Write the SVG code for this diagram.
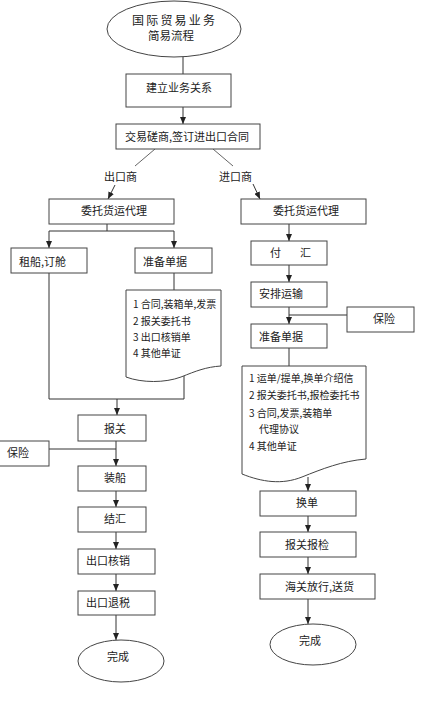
<svg xmlns="http://www.w3.org/2000/svg" width="440" height="708" viewBox="0 0 440 708">
<defs>
<style>
.n{fill:#fff;stroke:#444;stroke-width:1}
.t{font-family:"Noto Sans CJK SC","Noto Sans",sans-serif;font-size:11px;fill:#222}
.d{font-family:"Noto Sans CJK SC","Noto Sans",sans-serif;font-size:10px;fill:#222}
.c{fill:none;stroke:#333;stroke-width:1}
.g{fill:none;stroke:#666;stroke-width:1}
</style>
<marker id="ah" viewBox="0 0 10 10" refX="10" refY="5" markerWidth="7" markerHeight="6" markerUnits="userSpaceOnUse" orient="auto" preserveAspectRatio="none">
<path d="M0,0 L10,5 L0,10 z" fill="#222"/>
</marker>
</defs>
<rect width="440" height="708" fill="#fff"/>

<g id="connectors">
<line class="c" x1="183" y1="57" x2="183" y2="74"/>
<line class="c" x1="183" y1="107" x2="183" y2="124" marker-end="url(#ah)"/>
<line class="g" x1="155" y1="149" x2="135" y2="166"/>
<line class="c" x1="115" y1="185" x2="108" y2="199" marker-end="url(#ah)"/>
<line class="g" x1="213" y1="149" x2="233" y2="166"/>
<line class="c" x1="253" y1="184" x2="260" y2="199" marker-end="url(#ah)"/>
<line class="c" x1="107" y1="224" x2="107" y2="231"/>
<line class="c" x1="49" y1="231" x2="174" y2="231"/>
<line class="c" x1="49" y1="231" x2="49" y2="248" marker-end="url(#ah)"/>
<line class="c" x1="174" y1="231" x2="174" y2="248" marker-end="url(#ah)"/>
<line class="c" x1="174" y1="273" x2="174" y2="290"/>
<polyline class="c" points="49,273 49,399 184,399 184,376"/>
<line class="c" x1="117" y1="399" x2="117" y2="415" marker-end="url(#ah)"/>
<line class="c" x1="116" y1="441" x2="116" y2="466" marker-end="url(#ah)"/>
<line class="c" x1="49" y1="449" x2="116" y2="449"/>
<line class="c" x1="116" y1="491" x2="116" y2="507" marker-end="url(#ah)"/>
<line class="c" x1="116" y1="532" x2="116" y2="549" marker-end="url(#ah)"/>
<line class="c" x1="116" y1="574" x2="116" y2="591" marker-end="url(#ah)"/>
<line class="c" x1="116" y1="615" x2="116" y2="640" marker-end="url(#ah)"/>
<line class="c" x1="289" y1="224" x2="289" y2="241" marker-end="url(#ah)"/>
<line class="c" x1="289" y1="265" x2="289" y2="282" marker-end="url(#ah)"/>
<line class="c" x1="289" y1="307" x2="289" y2="324" marker-end="url(#ah)"/>
<line class="c" x1="347" y1="315" x2="289" y2="315"/>
<line class="c" x1="289" y1="348" x2="289" y2="366"/>
<line class="c" x1="308" y1="477" x2="308" y2="491" marker-end="url(#ah)"/>
<line class="c" x1="308" y1="516" x2="308" y2="532" marker-end="url(#ah)"/>
<line class="c" x1="308" y1="557" x2="308" y2="574" marker-end="url(#ah)"/>
<line class="c" x1="308" y1="599" x2="308" y2="624" marker-end="url(#ah)"/>
</g>

<g id="start">
<ellipse class="n" cx="174" cy="29" rx="67" ry="28"/>
<text class="t" x="132" y="24.5" style="font-size:12px;letter-spacing:2.2px">国际贸易业务</text>
<text class="t" x="148" y="39.5" style="font-size:11.5px">简易流程</text>
</g>
<g id="n-relation">
<rect class="n" x="126" y="74" width="105" height="33"/>
<text class="t" x="146" y="92">建立业务关系</text>
</g>
<g id="n-contract">
<rect class="n" x="116" y="124" width="144" height="25"/>
<text class="t" x="125" y="141">交易磋商,签订进出口合同</text>
</g>
<g id="lbl-exporter"><text class="t" x="104" y="181">出口商</text></g>
<g id="lbl-importer"><text class="t" x="219" y="181">进口商</text></g>

<g id="n-ex-agent">
<rect class="n" x="49" y="199" width="125" height="25"/>
<text class="t" x="81" y="215">委托货运代理</text>
</g>
<g id="n-ex-ship">
<rect class="n" x="11" y="248" width="76" height="25"/>
<text class="t" x="19" y="266">租船,订舱</text>
</g>
<g id="n-ex-docs">
<rect class="n" x="135" y="248" width="77" height="25"/>
<text class="t" x="143" y="266">准备单据</text>
</g>
<g id="n-ex-doclist">
<path class="n" d="M126,290 H221 V366 C206,367 196,371 181,377 C165,383 142,383 126,377 Z"/>
<text class="d" x="133" y="307.5">1 合同,装箱单,发票</text>
<text class="d" x="133" y="324.5">2 报关委托书</text>
<text class="d" x="133" y="340.5">3 出口核销单</text>
<text class="d" x="133" y="357">4 其他单证</text>
</g>
<g id="n-ex-customs">
<rect class="n" x="78" y="415" width="68" height="26"/>
<text class="t" x="104" y="433">报关</text>
</g>
<g id="n-ex-insurance">
<rect class="n" x="-1" y="441" width="50" height="25"/>
<text class="t" x="7" y="457">保险</text>
</g>
<g id="n-ex-load">
<rect class="n" x="78" y="466" width="68" height="25"/>
<text class="t" x="104" y="482">装船</text>
</g>
<g id="n-ex-settle">
<rect class="n" x="78" y="507" width="68" height="25"/>
<text class="t" x="104" y="523">结汇</text>
</g>
<g id="n-ex-verify">
<rect class="n" x="78" y="549" width="77" height="25"/>
<text class="t" x="86" y="565">出口核销</text>
</g>
<g id="n-ex-rebate">
<rect class="n" x="78" y="591" width="77" height="24"/>
<text class="t" x="86" y="607">出口退税</text>
</g>
<g id="n-ex-done">
<ellipse class="n" cx="121" cy="661" rx="43" ry="21"/>
<text class="t" x="107" y="661">完成</text>
</g>

<g id="n-im-agent">
<rect class="n" x="241" y="199" width="125" height="25"/>
<text class="t" x="273" y="215">委托货运代理</text>
</g>
<g id="n-im-pay">
<rect class="n" x="251" y="241" width="76" height="24"/>
<text class="t" x="270" y="257">付<tspan x="300">汇</tspan></text>
</g>
<g id="n-im-transport">
<rect class="n" x="251" y="282" width="76" height="25"/>
<text class="t" x="259" y="298">安排运输</text>
</g>
<g id="n-im-insurance">
<rect class="n" x="347" y="307" width="67" height="25"/>
<text class="t" x="373" y="323">保险</text>
</g>
<g id="n-im-docs">
<rect class="n" x="251" y="324" width="76" height="24"/>
<text class="t" x="259" y="341">准备单据</text>
</g>
<g id="n-im-doclist">
<path class="n" d="M242,366 H366 V459 C342,461 322,469 302,477 C282,485 262,482 242,474 Z"/>
<text class="d" x="249" y="382">1 运单/提单,换单介绍信</text>
<text class="d" x="249" y="399">2 报关委托书,报检委托书</text>
<text class="d" x="249" y="417">3 合同,发票,装箱单</text>
<text class="d" x="259" y="433">代理协议</text>
<text class="d" x="249" y="450">4 其他单证</text>
</g>
<g id="n-im-exchange">
<rect class="n" x="260" y="491" width="96" height="25"/>
<text class="t" x="296" y="507">换单</text>
</g>
<g id="n-im-customs">
<rect class="n" x="260" y="532" width="96" height="25"/>
<text class="t" x="285" y="549">报关报检</text>
</g>
<g id="n-im-release">
<rect class="n" x="260" y="574" width="115" height="25"/>
<text class="t" x="285" y="591">海关放行,送货</text>
</g>
<g id="n-im-done">
<ellipse class="n" cx="313" cy="644.5" rx="43" ry="20.5"/>
<text class="t" x="299" y="645">完成</text>
</g>
</svg>
